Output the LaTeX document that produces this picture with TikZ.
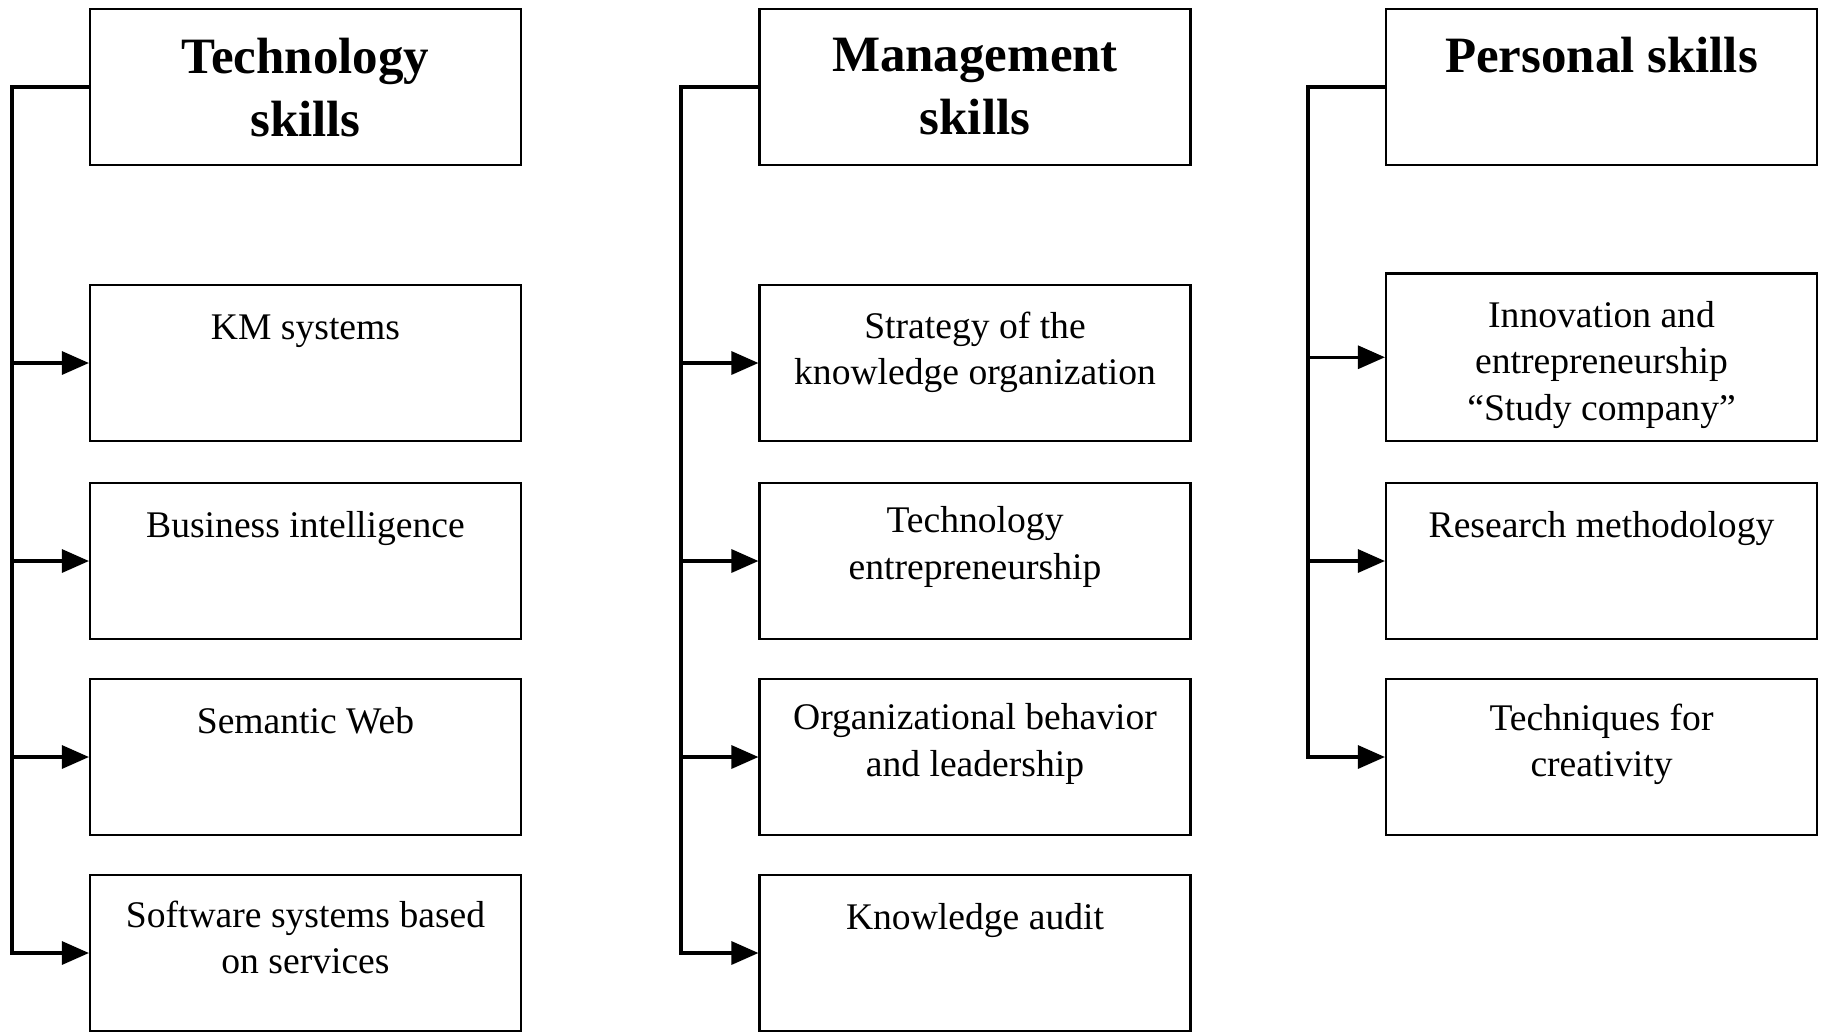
\documentclass[tikz,border=0pt]{standalone}
\usepackage{fontspec}
\setmainfont{Liberation Serif}
\usetikzlibrary{arrows.meta}
\tikzset{
  skillbox/.style={draw, line width=0.6pt, minimum width=4.31cm, minimum height=1.56cm, inner sep=0pt},
  headtext/.style={font=\fontsize{14.5}{18}\selectfont\bfseries, align=center, anchor=north, inner sep=0pt, execute at begin node=\strut},
  itemtext/.style={font=\fontsize{10.7}{13.2}\selectfont, align=center, anchor=north, inner sep=0pt, execute at begin node=\strut},
  link/.style={line width=0.9pt},
  feed/.style={link, -{Triangle[length=2.7mm, width=2.3mm]}}
}
\begin{document}
\begin{tikzpicture}
  \useasboundingbox (0,0) rectangle (18.25,-10.33);
  \coordinate (tspine) at (0.12,-0.87);
  \coordinate (mspine) at (6.81,-0.87);
  \coordinate (pspine) at (13.08,-0.87);

  \node[skillbox] (tech) at (3.055,-0.87) {};
  \node[skillbox] (km) at (3.055,-3.63) {};
  \node[skillbox] (bi) at (3.055,-5.61) {};
  \node[skillbox] (sw) at (3.055,-7.57) {};
  \node[skillbox] (soa) at (3.055,-9.53) {};
  \node[headtext] (techtxt) at ([yshift=-0.29cm]tech.north) {Technology\\skills};
  \node[itemtext] (kmtxt) at ([yshift=-0.225cm]km.north) {KM systems};
  \node[itemtext] (bitxt) at ([yshift=-0.225cm]bi.north) {Business intelligence};
  \node[itemtext] (swtxt) at ([yshift=-0.225cm]sw.north) {Semantic Web};
  \node[itemtext] (soatxt) at ([yshift=-0.26cm]soa.north) {Software systems based\\on services};

  \node[skillbox] (mgmt) at (9.75,-0.87) {};
  \node[skillbox] (strat) at (9.75,-3.63) {};
  \node[skillbox] (tent) at (9.75,-5.61) {};
  \node[skillbox] (orgb) at (9.75,-7.57) {};
  \node[skillbox] (audit) at (9.75,-9.53) {};
  \node[headtext] (mgmttxt) at ([yshift=-0.29cm]mgmt.north) {Management\\skills};
  \node[itemtext] (strattxt) at ([yshift=-0.27cm]strat.north) {Strategy of the\\knowledge organization};
  \node[itemtext] (tenttxt) at ([yshift=-0.24cm]tent.north) {Technology\\entrepreneurship};
  \node[itemtext] (orgbtxt) at ([yshift=-0.25cm]orgb.north) {Organizational behavior\\and leadership};
  \node[itemtext] (audittxt) at ([yshift=-0.225cm]audit.north) {Knowledge audit};

  \node[skillbox] (pers) at (16.015,-0.87) {};
  \node[skillbox, minimum height=1.675cm] (innov) at (16.015,-3.5725) {};
  \node[skillbox] (resm) at (16.015,-5.61) {};
  \node[skillbox] (creat) at (16.015,-7.57) {};
  \node[headtext] (perstxt) at ([yshift=-0.195cm]pers.north) {Personal skills};
  \node[itemtext] (innovtxt) at ([yshift=-0.28cm]innov.north) {Innovation and\\entrepreneurship\\“Study company”};
  \node[itemtext] (resmtxt) at ([yshift=-0.225cm]resm.north) {Research methodology};
  \node[itemtext] (creattxt) at ([yshift=-0.25cm]creat.north) {Techniques for\\creativity};

  \draw[feed] (tech.west) -- (tspine) |- (soa.west);
  \foreach \b in {km,bi,sw}
    \draw[feed] (tspine |- \b.west) -- (\b.west);
  \draw[feed] (mgmt.west) -- (mspine) |- (audit.west);
  \foreach \b in {strat,tent,orgb}
    \draw[feed] (mspine |- \b.west) -- (\b.west);
  \draw[feed] (pers.west) -- (pspine) |- (creat.west);
  \foreach \b in {innov,resm}
    \draw[feed] (pspine |- \b.west) -- (\b.west);
\end{tikzpicture}
\end{document}
